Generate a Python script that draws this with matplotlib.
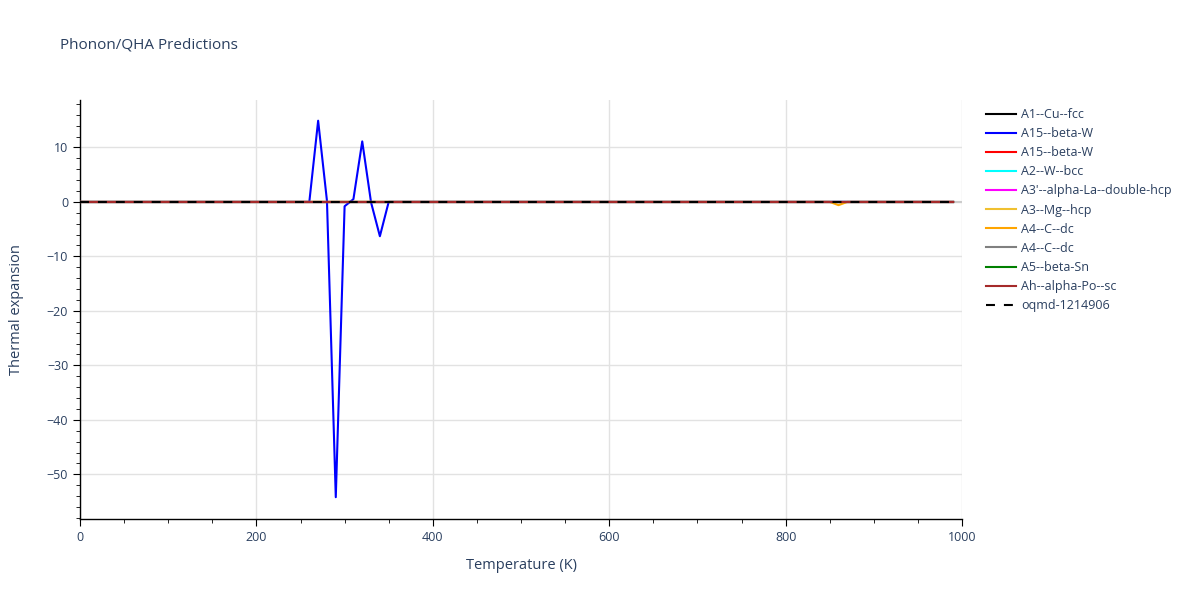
import matplotlib
matplotlib.use("Agg")
import matplotlib.pyplot as plt
from matplotlib.ticker import MultipleLocator

plt.rcParams["font.family"] = ["Open Sans", "DejaVu Sans"]

TEXT = "#2a3f5f"

# temperatures (K) where each curve changes; flat at zero elsewhere
FLAT_T = [0, 990]
FLAT_V = [0, 0]

BETA_W_T = [0, 260, 270, 280, 290, 300, 310, 320, 330, 340, 350, 990]
BETA_W_V = [0, 0, 14.9, 0.2, -54.2, -0.8, 0.5, 11.1, -0.1, -6.3, 0, 0]

C_DC_T = [0, 850, 860, 870, 990]
C_DC_V = [0, 0, -0.6, 0, 0]

LABELS = [
    "A1--Cu--fcc", "A15--beta-W", "A15--beta-W", "A2--W--bcc",
    "A3'--alpha-La--double-hcp", "A3--Mg--hcp", "A4--C--dc", "A4--C--dc",
    "A5--beta-Sn", "Ah--alpha-Po--sc", "oqmd-1214906",
]
COLORS = [
    "black", "blue", "red", "cyan", "magenta", "#f0c030", "orange",
    "gray", "green", "brown", "black",
]
SERIES = [
    (FLAT_T, FLAT_V), (BETA_W_T, BETA_W_V), (FLAT_T, FLAT_V), (FLAT_T, FLAT_V),
    (FLAT_T, FLAT_V), (FLAT_T, FLAT_V), (C_DC_T, C_DC_V), (FLAT_T, FLAT_V),
    (FLAT_T, FLAT_V), (FLAT_T, FLAT_V), (FLAT_T, FLAT_V),
]


def main():
    fig = plt.figure(figsize=(12, 6), dpi=100)
    ax = fig.add_axes([80 / 1200, 81 / 600, 882 / 1200, 419 / 600])

    ax.axhline(0, color="#cccccc", lw=1.5, zorder=1)
    for i, ((t, v), lab, col) in enumerate(zip(SERIES, LABELS, COLORS)):
        if lab.startswith("oqmd"):
            ax.plot(t, v, color=col, lw=1.5, dashes=(4.3, 4.3), label=lab, zorder=3 + i)
        else:
            ax.plot(t, v, color=col, lw=1.5, label=lab, zorder=3 + i)

    ax.set_xlim(0, 1000)
    ax.set_ylim(-58.2, 18.7)
    ax.xaxis.set_major_locator(MultipleLocator(200))
    ax.xaxis.set_minor_locator(MultipleLocator(50))
    ax.yaxis.set_major_locator(MultipleLocator(10))
    ax.yaxis.set_minor_locator(MultipleLocator(2))
    ax.grid(True, which="major", color="#e2e2e2", lw=1)
    ax.set_axisbelow(True)

    for s in ["top", "right"]:
        ax.spines[s].set_visible(False)
    for s in ["left", "bottom"]:
        ax.spines[s].set_color("black")
        ax.spines[s].set_linewidth(1)
    ax.tick_params(which="major", length=5, color="black", labelcolor=TEXT, labelsize=9)
    ax.tick_params(which="minor", length=3, color="black")

    ax.set_xlabel("Temperature (K)", color=TEXT, fontsize=10.5, labelpad=10)
    ax.set_ylabel("Thermal expansion", color=TEXT, fontsize=10.5, labelpad=16)
    fig.text(60 / 1200, 1 - 45 / 600, "Phonon/QHA Predictions", color=TEXT,
             fontsize=11, va="center", ha="left")

    leg = ax.legend(loc="upper left", bbox_to_anchor=(986 / 1200, 1 - 108 / 600),
                    bbox_transform=fig.transFigure, frameon=False, fontsize=9,
                    handlelength=2.4, handletextpad=0.4, labelspacing=0.49,
                    borderaxespad=0, borderpad=0)
    for txt in leg.get_texts():
        txt.set_color(TEXT)

    fig.savefig("out.png", dpi=100)
    plt.close(fig)


if __name__ == "__main__":
    main()
